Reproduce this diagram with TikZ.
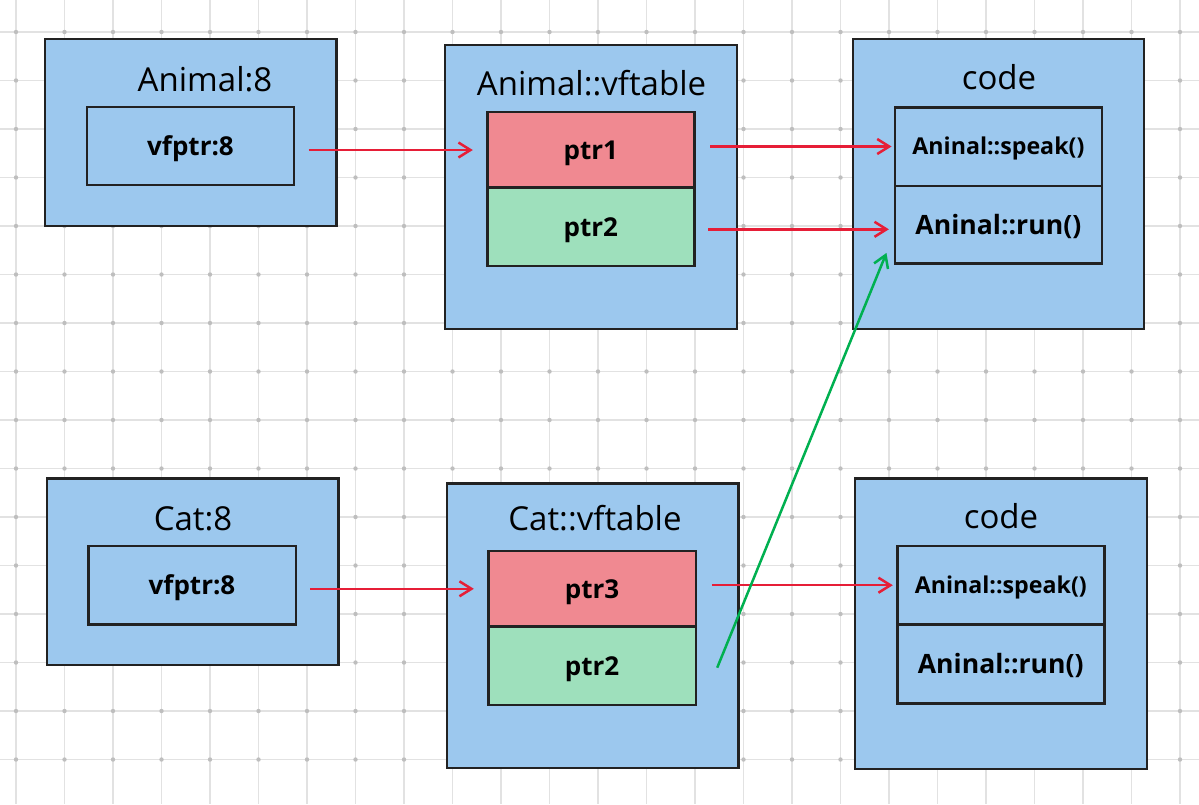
\documentclass[tikz,border=0pt]{standalone}
\usepackage{fontspec}
\setmainfont{Open Sans}
\usetikzlibrary{arrows.meta}
\definecolor{boxblue}{RGB}{156,200,238}
\definecolor{cellred}{RGB}{240,137,145}
\definecolor{cellgreen}{RGB}{158,224,188}
\definecolor{edge}{RGB}{34,34,34}
\definecolor{arrred}{RGB}{230,30,55}
\definecolor{arrgreen}{RGB}{0,176,80}
\definecolor{gridcol}{RGB}{226,226,226}
\definecolor{dotcol}{RGB}{190,190,190}
\begin{document}
\begin{tikzpicture}[x=1pt,y=-1pt,
  gridline/.style={draw=gridcol, line width=1.3pt},
  griddot/.style={fill=dotcol},
  outerbox/.style={rectangle, draw=edge, line width=2.4pt, fill=boxblue, inner sep=0pt},
  cellbox/.style={rectangle, draw=edge, line width=2.4pt, inner sep=0pt, text depth=0pt},
  titletext/.style={anchor=base, inner sep=0pt, font=\fontsize{33}{33}\selectfont},
  celltext/.style={font=\bfseries\fontsize{26}{26}\selectfont, text height=18.6pt},
  speaktext/.style={font=\bfseries\fontsize{23.2}{23.2}\selectfont, text height=16.6pt},
  runtext/.style={font=\bfseries\fontsize{26.6}{26.6}\selectfont, text height=19pt},
  redarrow/.style={draw=arrred, line width=2.5pt, -{Straight Barb[length=12pt,width=15pt]}},
  greenarrow/.style={draw=arrgreen, line width=2.5pt, -{Straight Barb[length=12pt,width=15pt]}}
]
\useasboundingbox (0,0) rectangle (1199,804);
\fill[white] (0,0) rectangle (1199,804);
% grid
\foreach \k in {0,...,24} \draw[gridline] ({16+48.5*\k},0) -- ({16+48.5*\k},804);
\foreach \k in {0,...,15} \draw[gridline] (0,{32+48.5*\k}) -- (1199,{32+48.5*\k});
\foreach \i in {0,...,24} \foreach \j in {0,...,15} \fill[griddot] ({16+48.5*\i},{32+48.5*\j}) circle (2.2);

% outer boxes
\node[outerbox, minimum width=291.5pt, minimum height=187pt] (b1) at (190.75,132.5) {};
\node[outerbox, minimum width=291.7pt, minimum height=284.3pt] (b2) at (590.9,186.9) {};
\node[outerbox, minimum width=291.3pt, minimum height=290.3pt] (b3) at (998.6,183.9) {};
\node[outerbox, minimum width=291.6pt, minimum height=186.7pt] (b4) at (192.5,571.7) {};
\node[outerbox, minimum width=291.6pt, minimum height=284.4pt] (b5) at (592.5,625.5) {};
\node[outerbox, minimum width=291.7pt, minimum height=290.7pt] (b6) at (1000.9,623.7) {};

% titles
\node[titletext] (t1) at (205,91) {Animal:8};
\node[titletext] (t2) at (591.5,95.7) {Animal::vftable};
\node[titletext] (t3) at (999,89.5) {code};
\node[titletext] (t4) at (193,530) {Cat:8};
\node[titletext] (t5) at (595,530) {Cat::vftable};
\node[titletext] (t6) at (1001,528.5) {code};

% cells
\node[cellbox, celltext, fill=boxblue, minimum width=207pt, minimum height=78pt] (v1) at (190.5,146) {vfptr:8};
\node[cellbox, celltext, fill=cellred, minimum width=207pt, minimum height=75.5pt] (p1) at (590.8,150) {ptr1};
\node[cellbox, celltext, fill=cellgreen, minimum width=207pt, minimum height=78.3pt] (p2) at (590.8,226.8) {ptr2};
\node[cellbox, speaktext, fill=boxblue, minimum width=206.7pt, minimum height=78.4pt] (s1) at (998.4,146.5) {Aninal::speak()};
\node[cellbox, runtext, fill=boxblue, minimum width=206.7pt, minimum height=77.6pt] (r1) at (998.4,224.5) {Aninal::run()};

\node[cellbox, celltext, fill=boxblue, minimum width=207.4pt, minimum height=78.3pt] (v2) at (192,585.2) {vfptr:8};
\node[cellbox, celltext, fill=cellred, minimum width=207.4pt, minimum height=75.7pt] (p3) at (592,588.8) {ptr3};
\node[cellbox, celltext, fill=cellgreen, minimum width=207.4pt, minimum height=78.3pt] (p4) at (592,665.8) {ptr2};
\node[cellbox, speaktext, fill=boxblue, minimum width=207pt, minimum height=78.3pt] (s2) at (1000.8,585.2) {Aninal::speak()};
\node[cellbox, runtext, fill=boxblue, minimum width=207pt, minimum height=79pt] (r2) at (1000.8,663.8) {Aninal::run()};

% arrows
\draw[redarrow, shorten <=13.3pt, shorten >=13.3pt] (v1.east |- p1) -- (p1.west);
\draw[redarrow, shorten <=14.7pt, shorten >=2.3pt] (p1.east |- s1) -- (s1.west);
\coordinate (a3s) at ([yshift=-2.5pt]p2.east);
\draw[redarrow, shorten <=12.7pt, shorten >=5pt] (a3s) -- (a3s -| r1.west);
\draw[redarrow, shorten <=13.3pt, shorten >=13.3pt] (v2.east |- p3) -- (p3.west);
\draw[redarrow, shorten <=15pt, shorten >=3.3pt] (p3.east |- s2) -- (s2.west);
\draw[greenarrow] ([xshift=20.3pt,yshift=-1.9pt]p4.east) -- ([xshift=-7.4pt,yshift=11.6pt]r1.south west);
\end{tikzpicture}
\end{document}
